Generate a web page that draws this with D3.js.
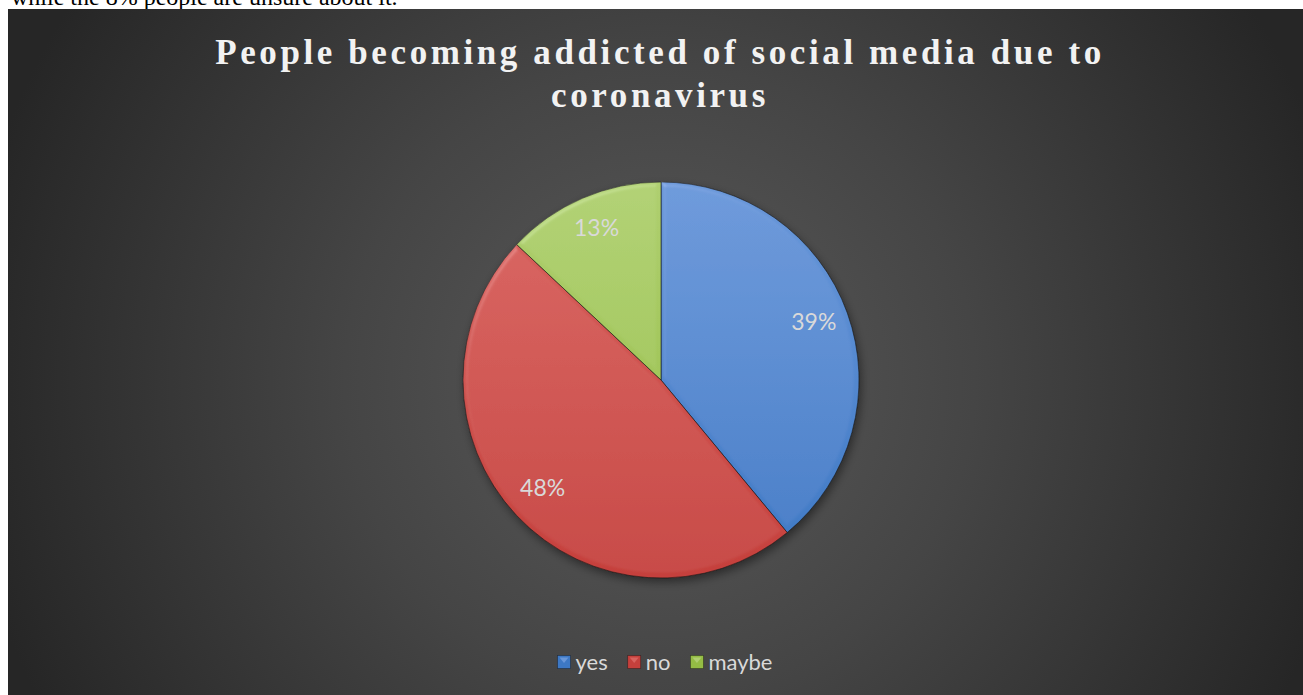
<!DOCTYPE html>
<html>
<head>
<meta charset="utf-8">
<script src="https://cdn.jsdelivr.net/npm/d3@7"></script>
<style>
  html, body { margin: 0; padding: 0; background: #ffffff; }
  svg { display: block; }
</style>
</head>
<body>
<svg id="chart" width="1303" height="695"></svg>
<script>
// Survey answers and their shares (percent)
const categories = ["yes", "no", "maybe"];
const values = [39, 48, 13];
const titleLines = ["People becoming addicted of social media due to", "coronavirus"];
const captionText = "while the 8% people are unsure about it.";

// Slice colours: [light top, dark bottom]
const sliceColors = {
  yes:   ["#6997d9", "#3d78c4"],
  no:    ["#d8625e", "#c5403c"],
  maybe: ["#afcf70", "#94bd44"]
};

const W = 1303, H = 695;
const svg = d3.select("#chart");
const defs = svg.append("defs");

// Body text line of the surrounding document, mostly hidden behind the chart
svg.append("text")
  .attr("x", 11).attr("y", 5)
  .attr("font-family", "'Liberation Serif', 'Times New Roman', serif")
  .attr("font-size", 24)
  .attr("fill", "#000")
  .text(captionText);

// Chart area with a dark radial background
const box = { x: 8, y: 9, w: W - 8, h: H - 9 };
const bg = defs.append("radialGradient").attr("id", "bgGrad")
  .attr("gradientUnits", "userSpaceOnUse")
  .attr("cx", 660).attr("cy", 380).attr("r", 700);
bg.append("stop").attr("offset", "0%").attr("stop-color", "#5a5a5a");
bg.append("stop").attr("offset", "45%").attr("stop-color", "#454545");
bg.append("stop").attr("offset", "100%").attr("stop-color", "#262626");

svg.append("rect")
  .attr("x", box.x).attr("y", box.y).attr("width", box.w).attr("height", box.h)
  .attr("fill", "url(#bgGrad)");

// Title
const title = svg.append("text")
  .attr("text-anchor", "middle")
  .attr("font-family", "'Liberation Serif', 'Times New Roman', serif")
  .attr("font-weight", "bold")
  .attr("font-size", 35)
  .attr("letter-spacing", 3.6)
  .attr("fill", "#f2f2f2");
titleLines.forEach((t, i) => {
  title.append("tspan").attr("x", 660).attr("y", 64 + i * 43).text(t);
});

// Pie
const cx = 661, cy = 380, R = 198;
const pie = d3.pie().sort(null).value(d => d.value);
const arc = d3.arc().innerRadius(0).outerRadius(R);
const data = categories.map((c, i) => ({ cat: c, value: values[i] }));
const arcs = pie(data);

categories.forEach(c => {
  const g = defs.append("linearGradient").attr("id", "grad-" + c)
    .attr("gradientUnits", "userSpaceOnUse")
    .attr("x1", 0).attr("y1", -R).attr("x2", 0).attr("y2", R);
  g.append("stop").attr("offset", "0%").attr("stop-color", sliceColors[c][0]);
  g.append("stop").attr("offset", "100%").attr("stop-color", sliceColors[c][1]);
});

// Soft bevel: lit from the upper left
const bevel = defs.append("filter").attr("id", "bevel")
  .attr("x", "-5%").attr("y", "-5%").attr("width", "110%").attr("height", "110%");
bevel.append("feGaussianBlur").attr("in", "SourceAlpha").attr("stdDeviation", 2.5).attr("result", "blur");
const spec = bevel.append("feSpecularLighting")
  .attr("in", "blur").attr("surfaceScale", 3).attr("specularConstant", 0.5)
  .attr("specularExponent", 18).attr("lighting-color", "#ffffff").attr("result", "spec");
spec.append("feDistantLight").attr("azimuth", 235).attr("elevation", 40);
bevel.append("feComposite").attr("in", "spec").attr("in2", "SourceAlpha")
  .attr("operator", "in").attr("result", "specIn");
bevel.append("feComposite").attr("in", "SourceGraphic").attr("in2", "specIn")
  .attr("operator", "arithmetic").attr("k1", 0).attr("k2", 1).attr("k3", 0.22).attr("k4", 0);

// Drop shadow under the pie
const shadow = defs.append("filter").attr("id", "shadow")
  .attr("x", "-20%").attr("y", "-20%").attr("width", "140%").attr("height", "140%");
shadow.append("feGaussianBlur").attr("in", "SourceAlpha").attr("stdDeviation", 5).attr("result", "b");
shadow.append("feOffset").attr("in", "b").attr("dx", 2).attr("dy", 4).attr("result", "o");
shadow.append("feComponentTransfer").attr("in", "o").attr("result", "s")
  .append("feFuncA").attr("type", "linear").attr("slope", 0.45);
const m = shadow.append("feMerge");
m.append("feMergeNode").attr("in", "s");

const pg = svg.append("g").attr("transform", `translate(${cx},${cy})`);

pg.append("circle").attr("r", R).attr("fill", "#000").attr("filter", "url(#shadow)");

pg.selectAll("path.slice")
  .data(arcs)
  .join("path")
  .attr("class", "slice")
  .attr("d", arc)
  .attr("fill", d => `url(#grad-${d.data.cat})`)
  .attr("filter", "url(#bevel)")
  .attr("stroke", "rgba(20,20,20,0.55)")
  .attr("stroke-width", 1);

// Percentage labels
const labelArc = d3.arc().innerRadius(R * 0.82).outerRadius(R * 0.82);
pg.selectAll("text.pct")
  .data(arcs)
  .join("text")
  .attr("class", "pct")
  .attr("transform", d => `translate(${labelArc.centroid(d)})`)
  .attr("text-anchor", "middle")
  .attr("dy", "0.22em")
  .attr("font-family", "Lato, 'Open Sans', sans-serif")
  .attr("font-size", 23)
  .attr("fill", "#d9d9d9")
  .text(d => d.data.value + "%");

// Legend
const legendY = 662;
const legend = svg.append("g");
const itemWidths = [];
const tmp = legend.append("g");
categories.forEach(c => {
  const t = tmp.append("text").attr("font-family", "Lato, 'Open Sans', sans-serif")
    .attr("font-size", 22).text(c);
  itemWidths.push(t.node().getComputedTextLength());
});
tmp.remove();
const sq = 13, gapSq = 5, gapItem = 20;
const total = d3.sum(itemWidths) + categories.length * (sq + gapSq) + (categories.length - 1) * gapItem;
let lx = 665 - total / 2;
categories.forEach((c, i) => {
  const it = legend.append("g").attr("transform", `translate(${lx},${legendY})`);
  it.append("rect").attr("x", 0).attr("y", -sq / 2).attr("width", sq).attr("height", sq)
    .attr("fill", sliceColors[c][1]).attr("stroke", "rgba(0,0,0,0.4)").attr("stroke-width", 0.8);
  it.append("path")
    .attr("d", `M${2},${-sq / 2 + 2}L${sq - 2},${-sq / 2 + 2}L${sq / 2},${1}Z`)
    .attr("fill", sliceColors[c][0]);
  it.append("text").attr("x", sq + gapSq).attr("y", 0).attr("dy", "0.35em")
    .attr("font-family", "Lato, 'Open Sans', sans-serif")
    .attr("font-size", 22).attr("fill", "#d9d9d9").text(c);
  lx += sq + gapSq + itemWidths[i] + gapItem;
});
</script>
</body>
</html>
